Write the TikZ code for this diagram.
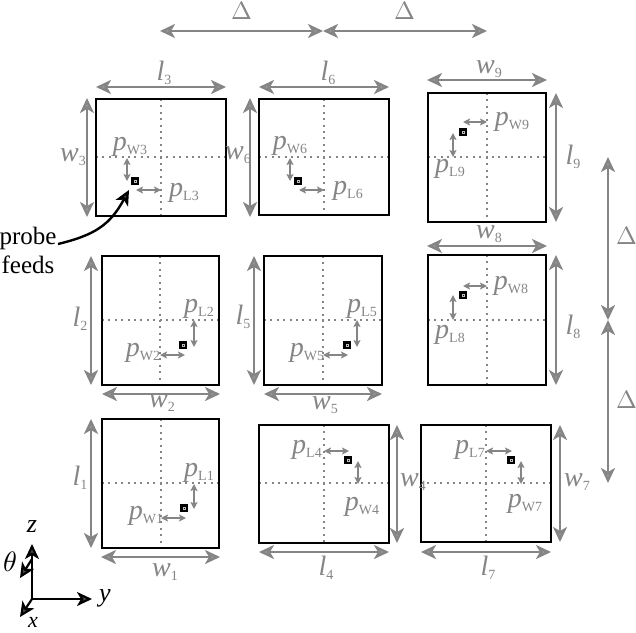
\documentclass[tikz,border=0pt]{standalone}
\usepackage{fontspec}
\setmainfont{Liberation Serif}
\usepackage{unicode-math}
\setmathfont{Latin Modern Math}
\usetikzlibrary{arrows.meta}
\definecolor{dimgray}{gray}{0.52}
\definecolor{tipgray}{gray}{0.62}
\definecolor{labgray}{gray}{0.52}
\tikzset{
  patchbox/.style={draw=black,line width=2pt},
  crossline/.style={draw=dimgray,line width=2pt,dash pattern=on 2pt off 4.4pt},
  dimline/.style={draw=dimgray,line width=2.5pt,{Stealth[length=15pt,width=14pt,fill=tipgray,inset=4pt]}-{Stealth[length=15pt,width=14pt,fill=tipgray,inset=4pt]}},
  offline/.style={draw=dimgray,line width=2pt,{Stealth[length=7pt,width=7pt,fill=tipgray,inset=1.5pt]}-{Stealth[length=7pt,width=7pt,fill=tipgray,inset=1.5pt]}},
  feedbox/.style={fill=black,inner sep=0pt,minimum size=7.5pt},
  feedhole/.style={draw=white!75!black,line width=.4pt,inner sep=0pt,minimum size=1.8pt},
  lab/.style={text=labgray,inner sep=0pt,font=\fontsize{28}{28}\selectfont\itshape},
  axlab/.style={text=black,inner sep=0pt,font=\fontsize{26}{26}\selectfont\itshape},
  plainlab/.style={text=black,inner sep=0pt,align=center,font=\fontsize{25}{29}\selectfont},
  axis/.style={draw=black,line width=2.2pt,-{Stealth[length=15pt,width=14pt,fill=black!70,inset=4pt]}},
}
% id x0 y0 x1 y1 cx cy
\newcommand{\patch}[7]{%
  \coordinate (p#1a) at (#2,#3);
  \coordinate (p#1b) at (#4,#5);
  \coordinate (p#1t) at (#6,#3);
  \coordinate (p#1u) at (#6,#5);
  \coordinate (p#1l) at (#2,#7);
  \coordinate (p#1r) at (#4,#7);
  \draw[crossline] (p#1t)--(p#1u);
  \draw[crossline] (p#1l)--(p#1r);
  \draw[patchbox] (p#1a) rectangle (p#1b);
}
% name x1 y1 x2 y2
\newcommand{\dimarrow}[6][dimline]{%
  \coordinate (#2s) at (#3,#4);
  \coordinate (#2e) at (#5,#6);
  \draw[#1] (#2s)--(#2e);
}
% name x y letter sub
\newcommand{\mylab}[5]{\node[lab,xshift=2pt] (#1) at (#2,#3) {#4\raisebox{-4pt}{\fontsize{14}{14}\selectfont\upshape #5}};}
% id x y
\newcommand{\feed}[3]{\node[feedbox] (f#1) at (#2,#3) {}; \node[feedhole] (h#1) at (#2,#3) {};}
\begin{document}
\begin{tikzpicture}[x=1pt,y=-1pt]
\useasboundingbox (0,0) rectangle (636,632);
\patch{3}{96}{99}{226}{216}{161}{157}
\patch{6}{259}{99}{389}{215}{324}{157}
\patch{9}{428}{93}{546}{222}{487}{157}
\patch{2}{102}{256}{219}{385}{160}{320}
\patch{5}{264}{256}{382}{385}{323}{320}
\patch{8}{428}{255}{546}{385}{487}{320}
\patch{1}{102}{419}{219}{548}{161}{483}
\patch{4}{259}{425}{389}{543}{324}{483}
\patch{7}{421}{425}{551}{542}{486}{483}
% feeds
\feed{3}{135}{181}\feed{6}{298}{181}\feed{9}{463}{132}
\feed{2}{183}{345}\feed{5}{347}{345}\feed{8}{463}{295}
\feed{1}{184}{508}\feed{4}{348}{460}\feed{7}{511}{460}
% offsets
\dimarrow[offline]{a3v}{127}{158}{127}{181}\dimarrow[offline]{a3h}{136}{190}{161}{190}
\dimarrow[offline]{a6v}{290}{158}{290}{181}\dimarrow[offline]{a6h}{299}{190}{324}{190}
\dimarrow[offline]{a9v}{453}{133}{453}{157}\dimarrow[offline]{a9h}{463}{122}{487}{122}
\dimarrow[offline]{a2v}{194}{320}{194}{347}\dimarrow[offline]{a2h}{160}{355}{185}{355}
\dimarrow[offline]{a5v}{357}{320}{357}{347}\dimarrow[offline]{a5h}{323}{355}{348}{355}
\dimarrow[offline]{a8v}{453}{295}{453}{320}\dimarrow[offline]{a8h}{463}{286}{487}{286}
\dimarrow[offline]{a1v}{194}{484}{194}{509}\dimarrow[offline]{a1h}{161}{518}{186}{518}
\dimarrow[offline]{a4v}{358}{461}{358}{484}\dimarrow[offline]{a4h}{324}{451}{349}{451}
\dimarrow[offline]{a7v}{521}{461}{521}{484}\dimarrow[offline]{a7h}{486}{451}{512}{451}
% dimensions
\dimarrow{l3}{96}{87}{226}{87}\dimarrow{w3}{87}{98}{87}{217}
\dimarrow{l6}{259}{87}{389}{87}\dimarrow{w6}{250}{98}{250}{217}
\dimarrow{w9}{427}{80}{547}{80}\dimarrow{l9}{556}{93}{556}{222}
\dimarrow{l2}{91}{256}{91}{385}\dimarrow{w2}{102}{394}{220}{394}
\dimarrow{l5}{254}{256}{254}{385}\dimarrow{w5}{264}{394}{382}{394}
\dimarrow{w8}{427}{246}{547}{246}\dimarrow{l8}{556}{255}{556}{385}
\dimarrow{l1}{91}{419}{91}{548}\dimarrow{w1}{101}{557}{220}{557}
\dimarrow{l4}{259}{552}{389}{552}\dimarrow{w4}{397}{425}{397}{543}
\dimarrow{l7}{421}{552}{551}{552}\dimarrow{w7}{560}{425}{560}{542}
\dimarrow{d1}{160}{31}{323}{31}\dimarrow{d2}{323}{31}{487}{31}
\dimarrow{d3}{608}{157}{608}{320}\dimarrow{d4}{608}{320}{608}{483}
% labels
\mylab{tl3}{162}{73}{l}{3}\mylab{tw3}{71}{157}{w}{3}
\mylab{tl6}{326}{73}{l}{6}\mylab{tw6}{236}{155}{w}{6}
\mylab{tw9}{487}{69}{w}{9}\mylab{tl9}{571}{157}{l}{9}
\mylab{tl2}{78}{319}{l}{2}\mylab{tw2}{160}{403}{w}{2}
\mylab{tl5}{241}{317}{l}{5}\mylab{tw5}{323}{405}{w}{5}
\mylab{tw8}{487}{234}{w}{8}\mylab{tl8}{571}{327}{l}{8}
\mylab{tl1}{78}{478}{l}{1}\mylab{tw1}{163}{572}{w}{1}
\mylab{tl4}{324}{568}{l}{4}\mylab{tw4}{411}{482}{w}{4}
\mylab{tl7}{486}{568}{l}{7}\mylab{tw7}{575}{482}{w}{7}
\mylab{pw3}{128}{147}{p}{W3}\mylab{pl3}{182}{193}{p}{L3}
\mylab{pw6}{288}{146}{p}{W6}\mylab{pl6}{346}{191}{p}{L6}
\mylab{pw9}{510}{122}{p}{W9}\mylab{pl9}{448}{169}{p}{L9}
\mylab{pl2}{197}{309}{p}{L2}\mylab{pw2}{141}{353}{p}{W2}
\mylab{pl5}{360}{309}{p}{L5}\mylab{pw5}{305}{353}{p}{W5}
\mylab{pw8}{509}{286}{p}{W8}\mylab{pl8}{448}{335}{p}{L8}
\mylab{pl1}{197}{473}{p}{L1}\mylab{pw1}{144}{516}{p}{W1}
\mylab{pl4}{305}{450}{p}{L4}\mylab{pw4}{360}{507}{p}{W4}
\mylab{pl7}{468}{450}{p}{L7}\mylab{pw7}{523}{504}{p}{W7}
\node[lab,font=\fontsize{25}{25}\selectfont] (dt1) at (242,11) {$\Delta$};
\node[lab,font=\fontsize{25}{25}\selectfont] (dt2) at (405,11) {$\Delta$};
\node[lab,font=\fontsize{25}{25}\selectfont] (dt3) at (627,236) {$\Delta$};
\node[lab,font=\fontsize{25}{25}\selectfont] (dt4) at (627,400) {$\Delta$};
% probe feeds
\node[plainlab] (probe) at (28,250) {probe\\feeds};
\coordinate (ptip) at (129,190);
\coordinate (pstart) at (58,244);
\draw[line width=2.4pt,draw=black,-{Stealth[length=15pt,width=14pt,fill=black!70,inset=4pt]}] (pstart) .. controls (95,235) and (110,225) .. (ptip);
% axes
\coordinate (o) at (32,599);
\coordinate (az) at (32,544);
\coordinate (ay) at (92,599);
\coordinate (ax) at (20,617);
\coordinate (t1) at (32,559);
\coordinate (t2) at (20,578);
\draw[axis] (o)--(az);
\draw[axis] (o)--(ay);
\draw[axis] (o)--(ax);
\draw[axis] (t1)--(t2);
\node[axlab] (zl) at (32,527) {z};
\node[axlab] (yl) at (105,598) {y};
\node[axlab,font=\fontsize{22}{22}\selectfont\itshape] (xl) at (33,622) {x};
\node[axlab,font=\fontsize{28}{28}\selectfont] (tl) at (10,562) {$\theta$};
\end{tikzpicture}
\end{document}
